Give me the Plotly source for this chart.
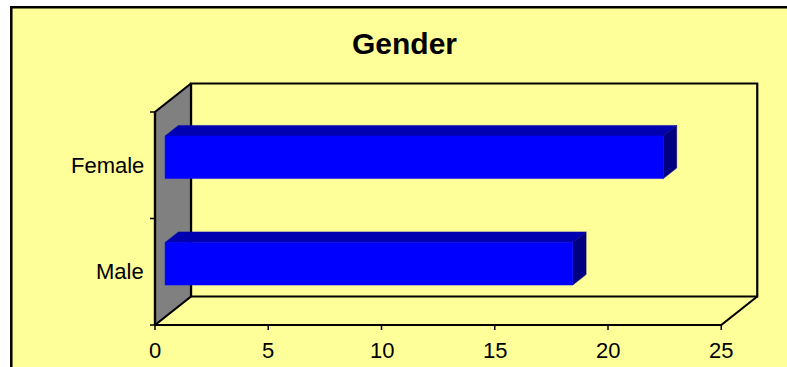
import plotly.graph_objects as go

# ---- data ----
categories = ["Male", "Female"]
values = [18, 22]
x_ticks = [0, 5, 10, 15, 20, 25]
y_boundaries = [0, 1, 2]
title_text = "Gender"

# ---- geometry / style constants ----
W, H = 787, 367
PX0, PPU_X = 155.0, 22.65      # pixel of value 0, pixels per value unit
PY0, PPU_Y = 325.0, 106.5      # pixel of category baseline, pixels per category
DX = 36.0 / PPU_X              # depth offset in x units
DY = 28.5 / PPU_Y              # depth offset in y units
F0, F1 = 0.28, 0.65            # bar depth range (fraction of depth)
HALF = 0.2                     # half bar thickness (category units)
XMAX = 25

ML, MR, MT, MB = 130, 7, 60, 30
plot_l, plot_r = ML, W - MR
plot_t, plot_b = MT, H - MB
xrange_ = [(plot_l - PX0) / PPU_X, (plot_r - PX0) / PPU_X]
yrange_ = [(PY0 - plot_b) / PPU_Y, (PY0 - plot_t) / PPU_Y]

def pxp(px):
    return (px - plot_l) / (plot_r - plot_l)

def pyp(py):
    return (plot_b - py) / (plot_b - plot_t)

YELLOW = "#FFFF99"
LINE = dict(color="black", width=2.2)

fig = go.Figure()

def poly(xs, ys, fill, line=None):
    fig.add_trace(go.Scatter(
        x=list(xs) + [xs[0]], y=list(ys) + [ys[0]], mode="lines",
        fill="toself", fillcolor=fill,
        line=line if line else dict(color=fill, width=0.5),
        hoverinfo="skip", showlegend=False))

top = y_boundaries[-1]

# back wall
poly([DX, XMAX + DX, XMAX + DX, DX], [DY, DY, top + DY, top + DY], YELLOW, LINE)
# left side wall (grey)
poly([0, DX, DX, 0], [0, DY, top + DY, top], "#808080", LINE)

# floor edges
fig.add_trace(go.Scatter(x=[0, XMAX, XMAX + DX], y=[0, 0, DY], mode="lines",
                         line=LINE, hoverinfo="skip", showlegend=False))
fig.add_trace(go.Scatter(x=[0, 0], y=[0, top], mode="lines",
                         line=LINE, hoverinfo="skip", showlegend=False))

# 3D bars
for i, (cat, v) in enumerate(zip(categories, values)):
    c = i + 0.5
    x0f, y0f = F0 * DX, F0 * DY
    x1b, y1b = F1 * DX, F1 * DY
    yb, yt = c - HALF, c + HALF
    # top face
    poly([x0f, v + x0f, v + x1b, x1b],
         [yt + y0f, yt + y0f, yt + y1b, yt + y1b], "#0000B0")
    # right face
    poly([v + x0f, v + x1b, v + x1b, v + x0f],
         [yb + y0f, yb + y1b, yt + y1b, yt + y0f], "#000080")
    # front face
    poly([x0f, v + x0f, v + x0f, x0f],
         [yb + y0f, yb + y0f, yt + y0f, yt + y0f], "#0000FF")

shapes = []
# white surround and outer border
shapes.append(dict(type="rect", xref="paper", yref="paper", x0=pxp(-5), x1=pxp(W + 5),
                   y0=pyp(6), y1=pyp(-5), fillcolor="white", line=dict(width=0), layer="above"))
shapes.append(dict(type="rect", xref="paper", yref="paper", x0=pxp(-5), x1=pxp(10),
                   y0=pyp(H + 5), y1=pyp(-5), fillcolor="white", line=dict(width=0), layer="above"))
shapes.append(dict(type="line", xref="paper", yref="paper", x0=pxp(10), x1=pxp(W + 5),
                   y0=pyp(7.3), y1=pyp(7.3), line=dict(color="black", width=2.5), layer="above"))
shapes.append(dict(type="line", xref="paper", yref="paper", x0=pxp(11.3), x1=pxp(11.3),
                   y0=pyp(H + 5), y1=pyp(6), line=dict(color="black", width=2.5), layer="above"))

# axis ticks
for t in x_ticks:
    shapes.append(dict(type="line", xref="x", yref="y", ysizemode="pixel", yanchor=0,
                       x0=t, x1=t, y0=-5, y1=0, line=dict(color="black", width=1.5)))
for b in y_boundaries:
    shapes.append(dict(type="line", xref="x", yref="y", xsizemode="pixel", xanchor=0,
                       x0=-5, x1=0, y0=b, y1=b, line=dict(color="black", width=1.5)))

annotations = []
FONT = "Liberation Sans, Arial, sans-serif"
for t in x_ticks:
    annotations.append(dict(x=t, y=0, xref="x", yref="y", text=str(t), showarrow=False,
                            xanchor="center", yanchor="top", yshift=-11,
                            font=dict(family=FONT, size=22, color="black")))
for i, cat in enumerate(categories):
    annotations.append(dict(x=0, y=i + 0.5, xref="x", yref="y", text=cat, showarrow=False,
                            xanchor="right", yanchor="middle", xshift=-9,
                            font=dict(family=FONT, size=22, color="black")))
annotations.append(dict(x=pxp(404), y=pyp(43), xref="paper", yref="paper",
                        text="<b>" + title_text + "</b>", showarrow=False,
                        xanchor="center", yanchor="middle",
                        font=dict(family=FONT, size=30, color="black")))

fig.update_layout(
    width=W, height=H,
    margin=dict(l=ML, r=MR, t=MT, b=MB, pad=0),
    paper_bgcolor=YELLOW, plot_bgcolor="rgba(0,0,0,0)",
    xaxis=dict(range=xrange_, visible=False, fixedrange=True),
    yaxis=dict(range=yrange_, visible=False, fixedrange=True),
    shapes=shapes, annotations=annotations, showlegend=False,
)

fig.write_html("out.html")
